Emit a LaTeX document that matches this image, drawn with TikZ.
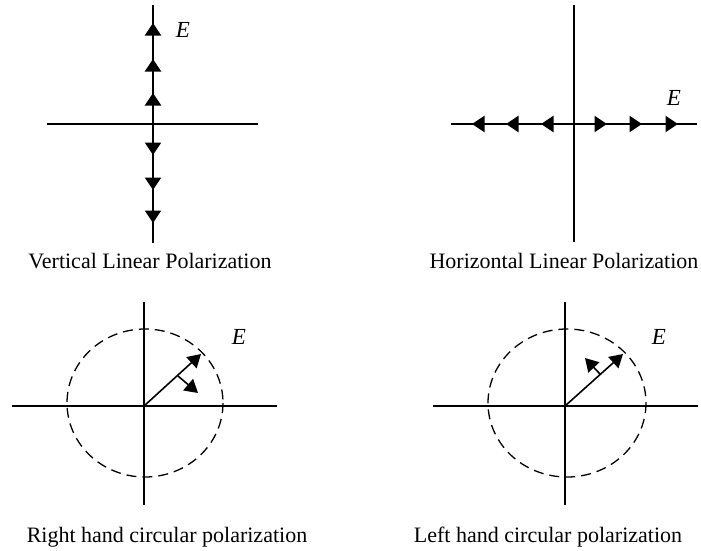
\documentclass[tikz,border=0pt]{standalone}
\usepackage{fontspec}
\setmainfont{Liberation Serif}
\usetikzlibrary{arrows.meta}
\tikzset{
  axis/.style={line width=1.3pt,black},
  field/.style={line width=2.2pt,black},
  tipped/.style={-{Triangle[length=12.5pt,width=16pt]}},
  vec/.style={line width=1.6pt,-{Triangle[length=13pt,width=15pt]}},
  dashcirc/.style={line width=1.3pt,dash pattern=on 10pt off 6pt},
  caption/.style={anchor=base,font=\fontsize{22}{26}\selectfont,inner sep=0pt},
  elabel/.style={anchor=base,font=\fontsize{23}{27}\selectfont\itshape,inner sep=0pt}
}
\begin{document}
\begin{tikzpicture}[x=1pt,y=-1pt]
\useasboundingbox (0,0) rectangle (701,550);
% ---------- Vertical linear polarization
\coordinate (o1) at (153,124);
\draw[axis] (47,124) -- (258,124);
\draw[axis] (153,5) -- (153,243);
\draw[field] (153,24) -- (153,222);
\foreach \y in {23,59,93} \draw[field,tipped] (o1) -- (153,\y);
\foreach \y in {155,190,223} \draw[field,tipped] (o1) -- (153,\y);
\node[elabel] (e1) at (183,37) {E};
\node[caption] (c1) at (150,268) {Vertical Linear Polarization};
% ---------- Horizontal linear polarization
\coordinate (o2) at (574,124);
\draw[axis] (574,5) -- (574,242);
\draw[axis] (451,124) -- (697,124);
\draw[field] (473,124) -- (677,124);
\foreach \x in {472,506,541} \draw[field,tipped] (o2) -- (\x,124);
\foreach \x in {607,642,678} \draw[field,tipped] (o2) -- (\x,124);
\node[elabel] (e2) at (674,105) {E};
\node[caption] (c2) at (564,268) {Horizontal Linear Polarization};
% ---------- Right hand circular polarization
\coordinate (o3) at (144,406);
\draw[axis] (12,406) -- (277,406);
\draw[axis] (144,302) -- (144,505);
\draw[dashcirc] (145,403) ellipse [x radius=78, y radius=74];
\coordinate (t3) at (201,354);
\coordinate (m3) at (178,376);
\coordinate (s3) at (198,393);
\draw[vec] (o3) -- (t3);
\draw[vec] (m3) -- (s3);
\node[elabel] (e3) at (239,344) {E};
\node[caption] (c3) at (167,542) {Right hand circular polarization};
% ---------- Left hand circular polarization
\coordinate (o4) at (565,406);
\draw[axis] (433,406) -- (698,406);
\draw[axis] (565,302) -- (565,505);
\draw[dashcirc] (567,403) ellipse [x radius=79, y radius=74];
\coordinate (t4) at (623,354);
\coordinate (m4) at (600,374);
\coordinate (s4) at (585,358);
\draw[vec] (o4) -- (t4);
\draw[vec] (m4) -- (s4);
\node[elabel] (e4) at (659,344) {E};
\node[caption] (c4) at (548,542) {Left hand circular polarization};
\end{tikzpicture}
\end{document}
